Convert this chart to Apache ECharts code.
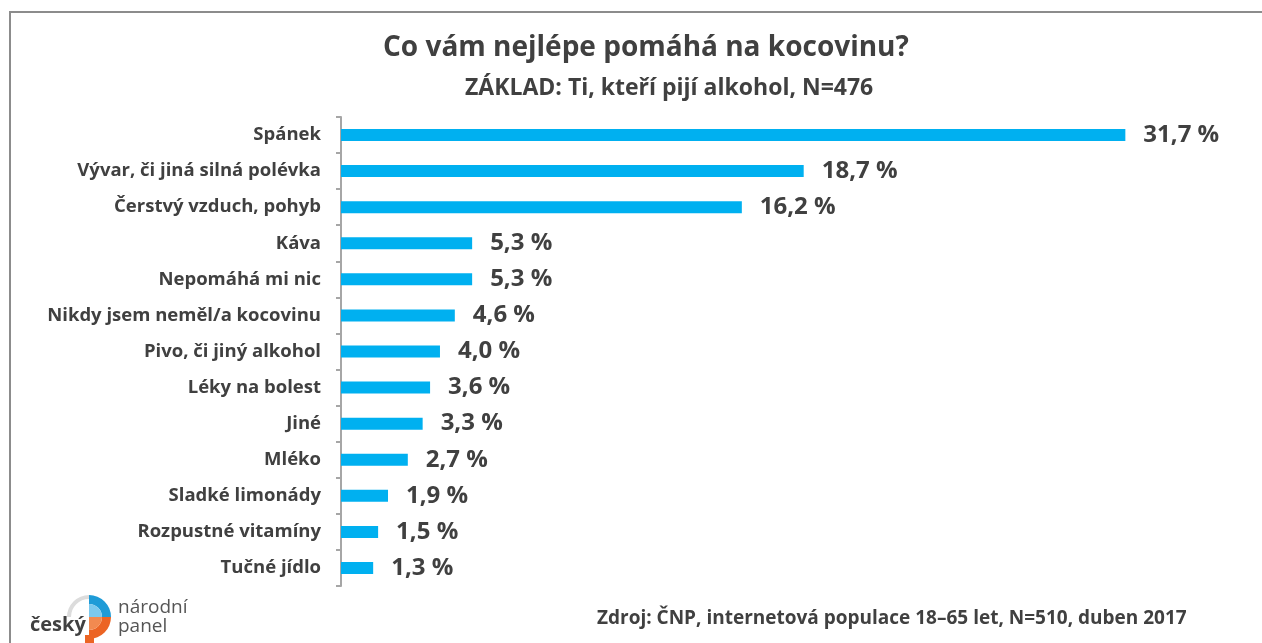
<!DOCTYPE html>
<html>
<head>
<meta charset="utf-8">
<script src="https://cdn.jsdelivr.net/npm/echarts@6/dist/echarts.min.js"></script>
<style>
  html, body { margin: 0; padding: 0; background: #fff; }
  #chart { width: 1262px; height: 643px; }
</style>
</head>
<body>
<div id="chart"></div>
<script>
// data
const categories = [
  'Spánek',
  'Vývar, či jiná silná polévka',
  'Čerstvý vzduch, pohyb',
  'Káva',
  'Nepomáhá mi nic',
  'Nikdy jsem neměl/a kocovinu',
  'Pivo, či jiný alkohol',
  'Léky na bolest',
  'Jiné',
  'Mléko',
  'Sladké limonády',
  'Rozpustné vitamíny',
  'Tučné jídlo'
];
const shares = [31.7, 18.7, 16.2, 5.3, 5.3, 4.6, 4.0, 3.6, 3.3, 2.7, 1.9, 1.5, 1.3];

const titleText = 'Co vám nejlépe pomáhá na kocovinu?';
const subtitleText = 'ZÁKLAD: Ti, kteří pijí alkohol, N=476';
const sourceText = 'Zdroj: ČNP, internetová populace 18–65 let, N=510, duben 2017';

const FONT = '"Open Sans", "Noto Sans", sans-serif';
const TEXT = '#404040';

const chart = echarts.init(document.getElementById('chart'));

const option = {
  animation: false,
  backgroundColor: '#fff',
  textStyle: { fontFamily: FONT },
  grid: { left: 341, right: 55, top: 117, bottom: 57 },
  xAxis: {
    type: 'value',
    min: 0,
    max: 35,
    show: false
  },
  yAxis: {
    type: 'category',
    inverse: true,
    data: categories,
    axisLine: { show: true, lineStyle: { color: '#a6a6a6', width: 2 } },
    axisTick: { show: true, length: 5, lineStyle: { color: '#a6a6a6', width: 2 } },
    axisLabel: {
      margin: 20,
      color: TEXT,
      fontFamily: FONT,
      fontSize: 18.5,
      fontWeight: 'bold'
    },
    splitLine: { show: false }
  },
  series: [{
    type: 'bar',
    data: shares,
    barWidth: 12,
    itemStyle: { color: '#00b0f0' },
    label: {
      show: true,
      position: 'right',
      distance: 18,
      color: TEXT,
      fontFamily: FONT,
      fontSize: 24,
      fontWeight: 'bold',
      formatter: p => p.value.toFixed(1).replace('.', ',') + ' %'
    }
  }],
  graphic: [
    // frame lines top + left
    { type: 'line', shape: { x1: 9, y1: 12, x2: 1262, y2: 12 }, style: { stroke: '#8c8c8c', lineWidth: 2 } },
    { type: 'line', shape: { x1: 10, y1: 11, x2: 10, y2: 643 }, style: { stroke: '#8c8c8c', lineWidth: 2 } },
    {
      type: 'text', x: 383, y: 34,
      style: { text: titleText, fill: TEXT, font: 'bold 28px ' + FONT }
    },
    {
      type: 'text', x: 465, y: 77,
      style: { text: subtitleText, fill: TEXT, font: 'bold 23px ' + FONT }
    },
    {
      type: 'text', x: 597, y: 609,
      style: { text: sourceText, fill: TEXT, font: 'bold 19px ' + FONT }
    },
    // logo
    {
      type: 'group', x: 89, y: 617,
      children: [
        { type: 'sector', shape: { cx: 0, cy: 0, r: 22, r0: 18, startAngle: Math.PI * 1.0, endAngle: Math.PI * 1.5 }, style: { fill: '#dcdcdc' } },
        { type: 'sector', shape: { cx: 0, cy: 0, r: 22, r0: 13, startAngle: Math.PI * 1.5, endAngle: Math.PI * 2 }, style: { fill: '#1e9bd7' } },
        { type: 'sector', shape: { cx: 0, cy: 0, r: 13, startAngle: Math.PI * 1.5, endAngle: Math.PI * 2 }, style: { fill: '#7cc9ee' } },
        { type: 'sector', shape: { cx: 0, cy: 0, r: 22, r0: 13, startAngle: 0, endAngle: Math.PI * 0.5 }, style: { fill: '#ec6424' } },
        { type: 'sector', shape: { cx: 0, cy: 0, r: 13, startAngle: 0, endAngle: Math.PI * 0.5 }, style: { fill: '#f28a50' } },
        { type: 'rect', shape: { x: -4, y: 18, width: 9, height: 10 }, style: { fill: '#ec6424' } }
      ]
    },
    {
      type: 'text', x: 30, y: 615,
      style: { text: 'český', fill: TEXT, font: 'bold 20px ' + FONT }
    },
    {
      type: 'text', x: 118, y: 598,
      style: { text: 'národní', fill: '#555', font: '19px ' + FONT }
    },
    {
      type: 'text', x: 118, y: 617,
      style: { text: 'panel', fill: '#555', font: '19px ' + FONT }
    }
  ]
};

chart.setOption(option);
</script>
</body>
</html>
